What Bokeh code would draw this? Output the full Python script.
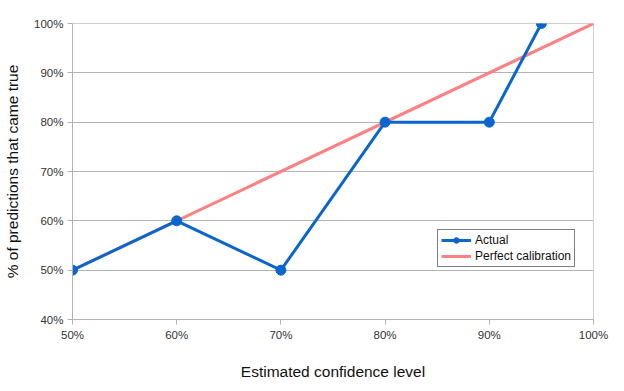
from bokeh.plotting import figure
from bokeh.models import Range1d, FixedTicker, Legend, LegendItem, CustomJSTickFormatter
from bokeh.embed import file_html
from bokeh.resources import INLINE

confidence = [50, 60, 70, 80, 90, 95]
actual = [50, 60, 50, 80, 80, 100]
perfect_x = [50, 100]
perfect_y = [50, 100]
x_ticks = [50, 60, 70, 80, 90, 100]
y_ticks = [40, 50, 60, 70, 80, 90, 100]

FONT = "Liberation Sans"

p = figure(width=624, height=391, output_backend="svg", toolbar_location=None,
           x_range=Range1d(50, 100), y_range=Range1d(40, 100),
           min_border_left=72, min_border_right=31, min_border_top=23, min_border_bottom=72)

p.background_fill_color = "white"
p.border_fill_color = "white"
p.outline_line_color = "#cfcfcf"

fmt = CustomJSTickFormatter(code="return tick + '%';")
for ax, ticks in ((p.xaxis[0], x_ticks), (p.yaxis[0], y_ticks)):
    ax.ticker = FixedTicker(ticks=ticks)
    ax.formatter = fmt
    ax.axis_line_color = "#b3b3b3"
    ax.major_tick_line_color = "#b3b3b3"
    ax.major_tick_out = 5
    ax.major_tick_in = 0
    ax.minor_tick_line_color = None
    ax.major_label_text_font = FONT
    ax.major_label_text_font_size = "11.5px"
    ax.major_label_text_color = "#333333"
    ax.axis_label_text_font = FONT
    ax.axis_label_text_font_size = "15.5px"
    ax.axis_label_text_font_style = "normal"
    ax.axis_label_text_color = "#111111"

p.xaxis.axis_label = "Estimated confidence level"
p.xaxis.axis_label_standoff = 19
p.xaxis.major_label_standoff = 4
p.yaxis.axis_label = "% of predictions that came true"
p.yaxis.axis_label_standoff = 10
p.yaxis.major_label_standoff = 4

p.xgrid.grid_line_color = None
p.ygrid.grid_line_color = "#b3b3b3"
p.ygrid.ticker = FixedTicker(ticks=y_ticks)

r_perf = p.line(perfect_x, perfect_y, line_color="#ff8080", line_width=3)
r_act = p.line(confidence, actual, line_color="#0a66cc", line_width=3)
r_pts = p.scatter(confidence, actual, size=10, fill_color="#0a66cc", line_color="#0a66cc")

legend = Legend(items=[LegendItem(label="Actual", renderers=[r_act, r_pts]),
                       LegendItem(label="Perfect calibration", renderers=[r_perf])],
                location=(365, 52))
legend.border_line_color = "black"
legend.border_line_width = 1.5
legend.label_text_font = FONT
legend.label_text_font_size = "12px"
legend.label_text_color = "#111111"
legend.glyph_width = 30
legend.glyph_height = 14
legend.label_height = 14
legend.label_standoff = 4
legend.spacing = 2
legend.padding = 3
legend.margin = 0
legend.background_fill_alpha = 1
p.add_layout(legend)

open("out.html", "w").write(file_html(p, INLINE))
